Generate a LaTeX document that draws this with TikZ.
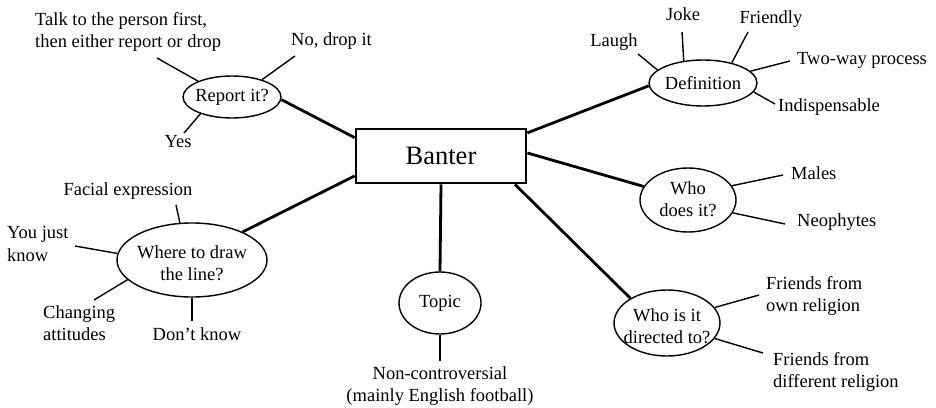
\documentclass[tikz,border=0pt]{standalone}
\usepackage{fontspec}
\setmainfont{Liberation Serif}
\usetikzlibrary{shapes.geometric}
\begin{document}
\begin{tikzpicture}[x=1pt,y=-1pt,
  txt/.style={font=\fontsize{18.5}{22.5}\selectfont, inner sep=0pt},
  ell/.style={draw, ellipse, line width=1.4pt, inner sep=0pt},
  thin/.style={line width=1.4pt},
  thick/.style={line width=2.8pt}]
\useasboundingbox (0,0) rectangle (936,407);
% central node
\node[draw, line width=2.8pt, minimum width=170pt, minimum height=54pt, inner sep=0pt,
  font=\fontsize{26.5}{30}\selectfont] (ban) at (441,156) {Banter};
% ellipses
\node[ell, minimum width=98pt, minimum height=42pt,
  label={[txt]center:{Report it?}}] (rep) at (232,97) {};
\node[ell, minimum width=108pt, minimum height=46pt,
  label={[txt]center:{Definition}}] (def) at (703,83) {};
\node[ell, minimum width=150pt, minimum height=74pt,
  label={[txt,align=center,yshift=-3pt]center:{Where to draw\\the line?}}] (wh) at (192,260) {};
\node[ell, minimum width=82pt, minimum height=62pt,
  label={[txt]center:{Topic}}] (tp) at (440,303) {};
\node[ell, minimum width=96pt, minimum height=64pt,
  label={[txt,align=center,yshift=1pt]center:{Who\\does it?}}] (wd) at (688,200) {};
\node[ell, minimum width=106pt, minimum height=66pt,
  label={[txt,align=center,yshift=-3pt]center:{Who is it\\directed to?}}] (wt) at (667,323) {};
% thick connectors
\draw[thick] (rep.-3) -- (ban.168);
\draw[thick] (wh.29) -- (ban.193);
\draw[thick] (ban.south) -- (tp.north);
\draw[thick] (ban.-21) -- (wt.146);
\draw[thick] (ban.2) -- (wd.163);
\draw[thick] (ban.15) -- (def.183);
% leaf texts
\node[txt, anchor=west, align=left] (talk) at (35,32) {Talk to the person first,\\then either report or drop};
\node[txt, anchor=west] (no) at (291,41) {No, drop it};
\node[txt] (yes) at (178,142) {Yes};
\node[txt] (laugh) at (614,42) {Laugh};
\node[txt] (joke) at (683,14) {Joke};
\node[txt] (friendly) at (771,19) {Friendly};
\node[txt, anchor=west] (two) at (797,60) {Two-way process};
\node[txt, anchor=west] (indisp) at (778,107) {Indispensable};
\node[txt] (facial) at (128,191) {Facial expression};
\node[txt, anchor=west, align=left] (know) at (7,244) {You just\\know};
\node[txt, anchor=west, align=left] (chg) at (43,323) {Changing\\attitudes};
\node[txt] (dont) at (197,334) {Don’t know};
\node[txt, align=center] (nonc) at (440,386) {Non-controversial\\(mainly English football)};
\node[txt, anchor=west] (males) at (791,173) {Males};
\node[txt, anchor=west] (neo) at (797,222) {Neophytes};
\node[txt, anchor=west, align=left] (own) at (766,296) {Friends from\\own religion};
\node[txt, anchor=west, align=left] (diff) at (773,372) {Friends from\\different religion};
% free ends of thin connectors
\coordinate (cTalk) at (157,58);
\coordinate (cNo) at (295,56);
\coordinate (cYes) at (184,133);
\coordinate (cLaugh) at (638,54);
\coordinate (cJoke) at (682,32);
\coordinate (cFriendly) at (748,32);
\coordinate (cTwo) at (790,61);
\coordinate (cIndisp) at (775,104);
\coordinate (cFacial) at (176,205);
\coordinate (cKnow) at (75,246);
\coordinate (cChg) at (94,300);
\coordinate (cDont) at (192,321);
\coordinate (cNonc) at (440,361);
\coordinate (cMales) at (783,175);
\coordinate (cNeo) at (785,224);
\coordinate (cOwn) at (759,295);
\coordinate (cDiff) at (763,353);
% thin connectors
\draw[thin] (rep.155) -- (cTalk);
\draw[thin] (rep.30) -- (cNo);
\draw[thin] (rep.208) -- (cYes);
\draw[thin] (def.164) -- (cLaugh);
\draw[thin] (def.131) -- (cJoke);
\draw[thin] (def.35) -- (cFriendly);
\draw[thin] (def.14) -- (cTwo);
\draw[thin] (def.-10) -- (cIndisp);
\draw[thin] (wh.108) -- (cFacial);
\draw[thin] (wh.175) -- (cKnow);
\draw[thin] (wh.197) -- (cChg);
\draw[thin] (wh.south) -- (cDont);
\draw[thin] (tp.south) -- (cNonc);
\draw[thin] (wd.18) -- (cMales);
\draw[thin] (wd.-16) -- (cNeo);
\draw[thin] (wt.18) -- (cOwn);
\draw[thin] (wt.-18) -- (cDiff);
\end{tikzpicture}
\end{document}
